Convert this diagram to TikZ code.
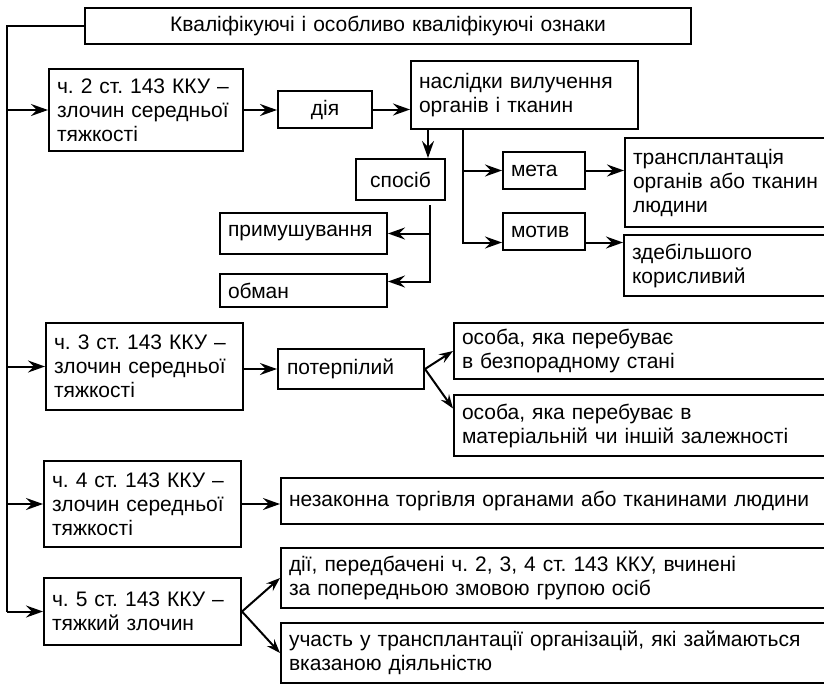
\documentclass[tikz,border=0pt]{standalone}
\usepackage{fontspec}
\setmainfont{Liberation Sans}
\usetikzlibrary{arrows.meta,positioning,calc}
\frenchspacing

\begin{document}
\begin{tikzpicture}[x=1pt,y=-1pt,
  >={Stealth[length=17pt,width=12pt,inset=6pt]},
  cell/.style={draw,line width=2pt,anchor=north west,align=left,
    inner xsep=8pt,inner ysep=0pt,font=\fontsize{21}{24}\selectfont},
  link/.style={->,line width=2pt},
  slant/.style={-{Stealth[length=14pt,width=10pt,inset=5pt]},line width=2pt}]

\useasboundingbox (0,0) rectangle (824,683);
\clip (0,0) rectangle (824,683);

\node[cell,text width=590pt,align=center,minimum height=36pt] (title) at (84,7)
  {Кваліфікуючі і особливо кваліфікуючі ознаки};

% ч. 2
\node[cell,text width=178pt,minimum height=82pt] (ch2) at (48,68)
  {ч. 2 ст. 143 ККУ –\\злочин середньої\\тяжкості};
\node[cell,text width=78pt,align=center,minimum height=37pt] (diia) at (277,90) {дія};
\node[cell,text width=211pt,minimum height=68pt] (nasl) at (410,60)
  {наслідки вилучення\\органів і тканин};
\node[cell,text width=73pt,align=center,minimum height=41pt] (spos) at (355,158) {спосіб};
\node[cell,text width=151pt,minimum height=41pt] (prym) at (219,212) {примушування};
\node[cell,text width=151pt,minimum height=33pt] (obman) at (219,273) {обман};
\node[cell,text width=66pt,minimum height=37pt] (meta) at (502,151) {мета};
\node[cell,text width=66pt,minimum height=37pt] (motyv) at (502,212) {мотив};
\node[cell,text width=210pt,minimum height=89pt] (transp) at (624,137)
  {трансплантація\\органів або тканин\\людини};
\node[cell,text width=211pt,minimum height=61pt] (zdeb) at (623,234)
  {здебільшого\\корисливий};

% ч. 3
\node[cell,text width=181pt,minimum height=87pt] (ch3) at (45,322)
  {ч. 3 ст. 143 ККУ –\\злочин середньої\\тяжкості};
\node[cell,text width=128pt,inner xsep=9pt,minimum height=40pt] (poterp) at (277,348) {потерпілий};
\node[cell,text width=382pt,minimum height=56pt] (os1) at (453,322)
  {особа, яка перебуває\\в безпорадному стані};
\node[cell,text width=382pt,minimum height=61pt] (os2) at (453,394)
  {особа, яка перебуває в\\матеріальній чи іншій залежності};

% ч. 4
\node[cell,text width=181pt,minimum height=86pt] (ch4) at (43,460)
  {ч. 4 ст. 143 ККУ –\\злочин середньої\\тяжкості};
\node[cell,text width=562pt,minimum height=46pt] (nez) at (280,477)
  {незаконна торгівля органами або тканинами людини};

% ч. 5
\node[cell,text width=181pt,minimum height=67pt] (ch5) at (43,577)
  {ч. 5 ст. 143 ККУ –\\тяжкий злочин};
\node[cell,text width=562pt,minimum height=60pt] (dii) at (280,547)
  {дії, передбачені ч. 2, 3, 4 ст. 143 ККУ, вчинені\\за попередньою змовою групою осіб};
\node[cell,text width=562pt,minimum height=60pt] (uch) at (280,622)
  {участь у трансплантації організацій, які займаються\\вказаною діяльністю};

% trunk
\coordinate (tb) at (7,612);
\draw[line width=2pt] (title.west) -| (tb);
\foreach \n in {ch2,ch3,ch4,ch5}
  \draw[link] (\n.west -| tb) -- (\n.west);

\draw[link] (ch2.east) -- (ch2.east -| diia.west);
\draw[link] (diia.east) -- (diia.east -| nasl.west);
\coordinate (sp) at ([xshift=-18pt]spos.north east);
\draw[link] (sp |- nasl.south) -- (sp);
\coordinate (sb) at ([xshift=-16pt,yshift=-4pt]spos.south east);
\draw[link] (sb) |- ([yshift=9pt]obman.east);
\draw[link] (sb |- prym.east) -- (prym.east);
\coordinate (nb) at ([xshift=53pt]nasl.south west);
\draw[link] (nb) |- ([yshift=-11pt]motyv.west);
\draw[link] (nb |- meta.west) -- (meta.west);
\draw[link] (meta.east) -- (meta.east -| transp.west);
\draw[link] ([yshift=-11pt]motyv.east) -- ([yshift=-11pt]motyv.east -| zdeb.west);

\draw[link] (poterp.west -| ch3.east) -- (poterp.west);
\draw[slant] (poterp.east) -- (os1.west);
\draw[slant] (poterp.east) -- ([yshift=17pt]os2.west);
\draw[link] (ch4.east) -- (ch4.east -| nez.west);
\draw[slant] (ch5.east) -- (dii.west);
\draw[slant] (ch5.east) -- (uch.west);
\end{tikzpicture}
\end{document}
